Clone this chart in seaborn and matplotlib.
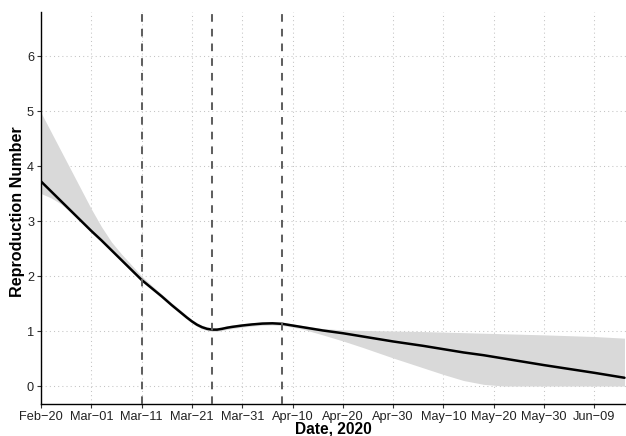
import matplotlib
matplotlib.use("Agg")
import matplotlib.pyplot as plt
import matplotlib.dates as mdates
import seaborn as sns
import pandas as pd

# ---- data ----
dates = ["2020-02-20", "2020-02-22", "2020-02-24", "2020-02-26", "2020-02-28",
         "2020-03-01", "2020-03-03", "2020-03-05", "2020-03-07", "2020-03-09",
         "2020-03-11", "2020-03-13", "2020-03-15", "2020-03-17", "2020-03-19",
         "2020-03-20", "2020-03-21", "2020-03-22", "2020-03-23", "2020-03-24",
         "2020-03-25", "2020-03-26", "2020-03-27", "2020-03-28", "2020-03-29",
         "2020-03-31", "2020-04-02", "2020-04-04", "2020-04-06", "2020-04-08",
         "2020-04-10", "2020-04-12", "2020-04-16", "2020-04-20", "2020-04-24",
         "2020-04-30", "2020-05-06", "2020-05-10", "2020-05-14", "2020-05-18",
         "2020-05-22", "2020-05-30", "2020-06-09", "2020-06-15"]
r_mean = [3.72, 3.54, 3.36, 3.18, 3.00,
          2.82, 2.65, 2.47, 2.29, 2.11,
          1.93, 1.78, 1.63, 1.47, 1.32,
          1.245, 1.175, 1.115, 1.07, 1.04,
          1.025, 1.025, 1.04, 1.06, 1.075,
          1.10, 1.12, 1.135, 1.14, 1.13,
          1.10, 1.07, 1.01, 0.96, 0.90,
          0.81, 0.73, 0.67, 0.61, 0.56,
          0.50, 0.38, 0.24, 0.15]
r_lower = [3.50, 3.42, 3.31, 3.15, 2.97,
           2.79, 2.62, 2.44, 2.26, 2.08,
           1.90, 1.75, 1.60, 1.44, 1.29,
           1.215, 1.145, 1.085, 1.04, 1.01,
           0.995, 0.995, 1.01, 1.03, 1.045,
           1.07, 1.09, 1.105, 1.11, 1.10,
           1.07, 1.035, 0.93, 0.82, 0.70,
           0.51, 0.33, 0.21, 0.10, 0.03,
           0.00, 0.00, 0.00, 0.00]
r_upper = [4.97, 4.62, 4.27, 3.92, 3.57,
           3.22, 2.90, 2.62, 2.40, 2.20,
           2.00, 1.83, 1.67, 1.51, 1.36,
           1.28, 1.21, 1.15, 1.105, 1.075,
           1.06, 1.06, 1.075, 1.095, 1.11,
           1.135, 1.15, 1.165, 1.17, 1.16,
           1.13, 1.10, 1.045, 1.02, 1.01,
           1.00, 0.99, 0.98, 0.97, 0.96,
           0.95, 0.93, 0.90, 0.87]
intervention_dates = ["2020-03-11", "2020-03-25", "2020-04-08"]
x_tick_dates = ["2020-02-20", "2020-03-01", "2020-03-11", "2020-03-21", "2020-03-31",
                "2020-04-10", "2020-04-20", "2020-04-30", "2020-05-10", "2020-05-20",
                "2020-05-30", "2020-06-09"]
y_ticks = [0, 1, 2, 3, 4, 5, 6]
x_label = "Date, 2020"
y_label = "Reproduction Number"

df = pd.DataFrame({"date": pd.to_datetime(dates), "R": r_mean,
                   "lo": r_lower, "hi": r_upper})

# ---- style ----
sns.set_theme(style="white")
plt.rcParams["font.family"] = ["Liberation Sans", "DejaVu Sans"]

fig = plt.figure(figsize=(6.26, 4.36), dpi=100)
ax = fig.add_axes([41 / 626, 1 - 404 / 436, 1 - 41 / 626, (404 - 12) / 436])

ax.fill_between(df["date"], df["lo"], df["hi"], color="#d9d9d9", linewidth=0, zorder=2)
sns.lineplot(data=df, x="date", y="R", color="black", linewidth=1.8, ax=ax, zorder=3)

for d in pd.to_datetime(intervention_dates):
    ax.axvline(d, color="#606060", linewidth=1.45, linestyle=(0, (3.8, 3.5)), zorder=4)

ax.set_xlim(pd.Timestamp("2020-02-20"), pd.Timestamp("2020-02-20") + pd.Timedelta(days=116.3))
ax.set_ylim(-0.327, 6.8)
ax.set_xticks(pd.to_datetime(x_tick_dates))
ax.xaxis.set_major_formatter(mdates.DateFormatter("%b\u2212%d"))
ax.set_yticks(y_ticks)

ax.grid(True, which="major", linestyle=(0, (1, 3)), color="#c4c4c4", linewidth=0.75, zorder=0)
ax.set_axisbelow(True)

for s in ["top", "right"]:
    ax.spines[s].set_visible(False)
for s in ["left", "bottom"]:
    ax.spines[s].set_color("black")
    ax.spines[s].set_linewidth(1.0)

ax.tick_params(axis="both", which="major", direction="out", length=3, width=0.8,
               color="#333333", labelcolor="#222222", labelsize=9.2, pad=2,
               bottom=True, left=True)
ax.set_xlabel(x_label, fontsize=11.2, fontweight="bold", color="black")
ax.xaxis.set_label_coords(0.5, -0.045)
ax.set_ylabel(y_label, fontsize=11.6, fontweight="bold", color="black")
ax.yaxis.set_label_coords(-0.028, 0.49)

fig.savefig("out.png", dpi=100)
